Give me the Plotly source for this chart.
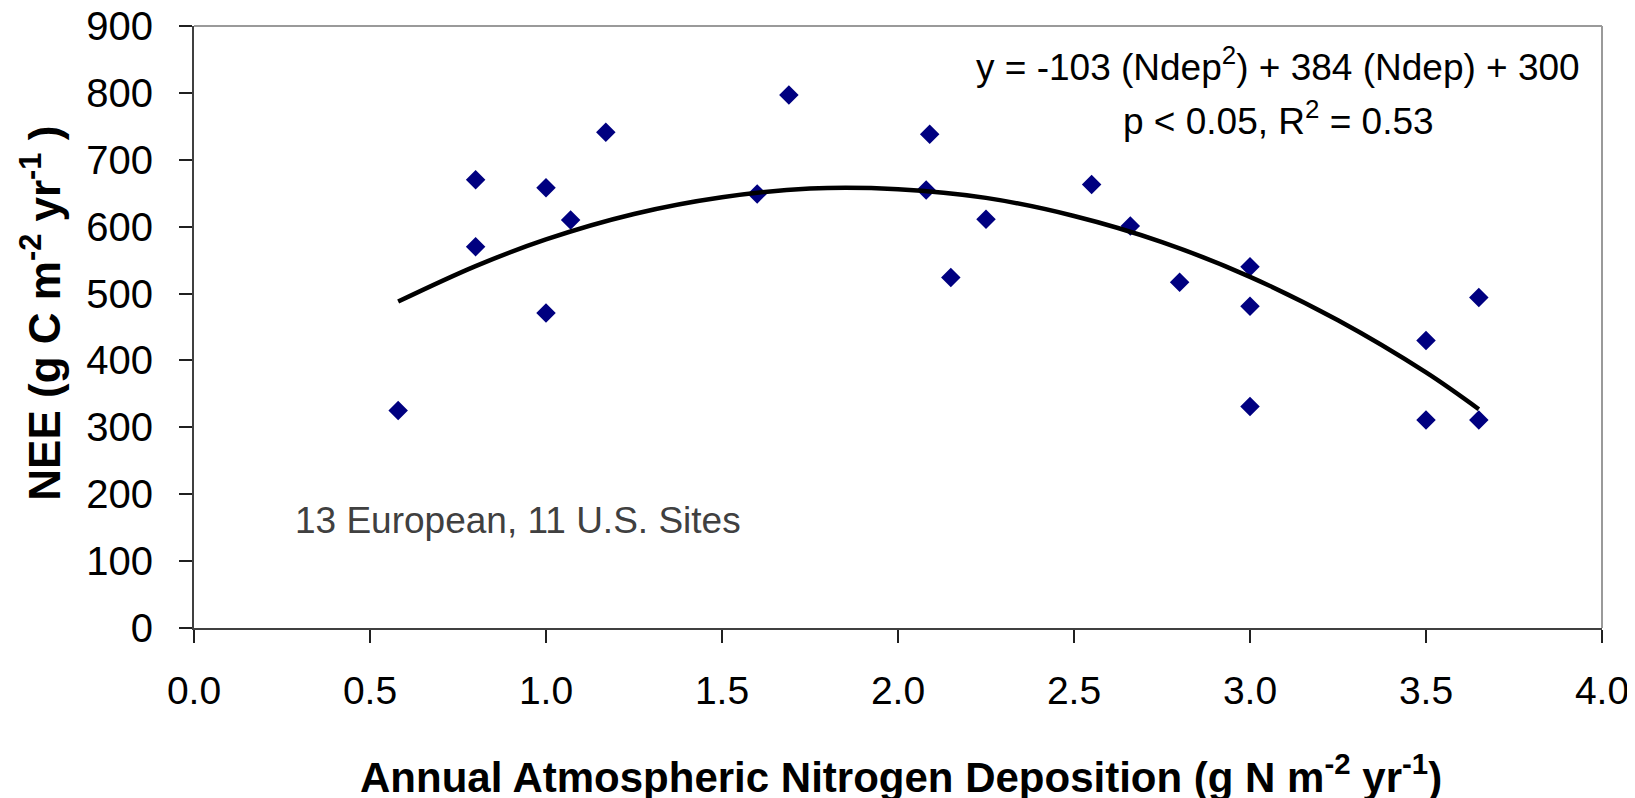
import plotly.graph_objects as go

ndep = [0.58, 0.80, 0.80, 1.00, 1.00, 1.07, 1.17, 1.60, 1.69,
        2.08, 2.09, 2.15, 2.25, 2.55, 2.66, 2.80, 3.00, 3.00, 3.00,
        3.50, 3.50, 3.65, 3.65]
nee = [325, 670, 570, 658, 471, 610, 741, 649, 797,
       655, 738, 524, 611, 663, 601, 517, 540, 481, 331,
       430, 311, 494, 311]

# Quadratic trend line
trend_x = [0.58, 0.80, 1.00, 1.25, 1.50, 1.75, 2.00, 2.25, 2.50, 2.75, 3.00, 3.25, 3.50, 3.65]
trend_y = [488, 541, 581, 619, 644, 657, 656, 643, 616, 577, 525, 460, 382, 327]

x_ticks = [0.0, 0.5, 1.0, 1.5, 2.0, 2.5, 3.0, 3.5, 4.0]
y_ticks = [0, 100, 200, 300, 400, 500, 600, 700, 800, 900]

FONT = "Liberation Sans, Arial, sans-serif"

fig = go.Figure()
fig.add_trace(go.Scatter(
    x=ndep, y=nee, mode="markers",
    marker=dict(symbol="diamond", size=15, color="#000080", line=dict(width=0)),
    showlegend=False, hoverinfo="x+y"))
fig.add_trace(go.Scatter(
    x=trend_x, y=trend_y, mode="lines",
    line=dict(color="black", width=4.5, shape="spline"),
    showlegend=False, hoverinfo="skip"))

fig.add_annotation(x=0.28, y=160, xref="x", yref="y", xanchor="left", yanchor="middle",
                   text="13 European, 11 U.S. Sites", showarrow=False,
                   font=dict(family=FONT, size=37, color="#404040"))
fig.add_annotation(x=3.08, y=843, xref="x", yref="y", xanchor="center", yanchor="middle",
                   text="y = -103 (Ndep<sup>2</sup>) + 384 (Ndep) + 300", showarrow=False,
                   font=dict(family=FONT, size=37, color="black"))
fig.add_annotation(x=3.08, y=761, xref="x", yref="y", xanchor="center", yanchor="middle",
                   text="p &lt; 0.05, R<sup>2</sup> = 0.53", showarrow=False,
                   font=dict(family=FONT, size=37, color="black"))

# axis titles
fig.add_annotation(x=0.502, y=-0.243, xref="paper", yref="paper", xanchor="center", yanchor="middle",
                   text="Annual Atmospheric Nitrogen Deposition (g N m<sup>-2</sup> yr<sup>-1</sup>)",
                   showarrow=False, font=dict(size=42, family=FONT, weight="bold", color="black"))
fig.add_annotation(x=-0.109, y=0.523, xref="paper", yref="paper", xanchor="center", yanchor="middle",
                   text="NEE (g C m<sup>-2</sup> yr<sup>-1</sup> )", textangle=-90,
                   showarrow=False, font=dict(size=44, family=FONT, weight="bold", color="black"))

# the page body adds an 8px offset, so the figure is sized to fill the rest of the window
fig.update_layout(
    width=1627, height=790,
    margin=dict(l=186, r=33, t=18, b=170),
    plot_bgcolor="white", paper_bgcolor="white",
    font=dict(family=FONT, color="black"),
    xaxis=dict(range=[0, 4], tickvals=x_ticks, ticktext=[f"{v:.1f}" for v in x_ticks],
               automargin=False, ticklabeloverflow="allow",
               showgrid=False, zeroline=False, showline=True, linecolor="#404040",
               linewidth=2, mirror=False, ticks="outside", ticklen=13, tickcolor="#202020",
               tickwidth=1.5, tickfont=dict(size=39, family=FONT), ticklabelstandoff=14),
    yaxis=dict(range=[0, 900], tickvals=y_ticks, showgrid=False, zeroline=False,
               automargin=False, ticklabeloverflow="allow",
               showline=True, linecolor="#404040", linewidth=2, mirror=False,
               ticks="outside", ticklen=13, tickcolor="#202020", tickwidth=1.5,
               tickfont=dict(size=40, family=FONT), ticklabelstandoff=18),
)
# light frame on top and right (plot area border)
fig.add_shape(type="line", xref="paper", yref="paper", x0=0, x1=1, y0=1, y1=1,
              line=dict(color="#9a9a9a", width=2), layer="below")
fig.add_shape(type="line", xref="paper", yref="paper", x0=1, x1=1, y0=0, y1=1,
              line=dict(color="#9a9a9a", width=2), layer="below")

fig.write_html("out.html")
